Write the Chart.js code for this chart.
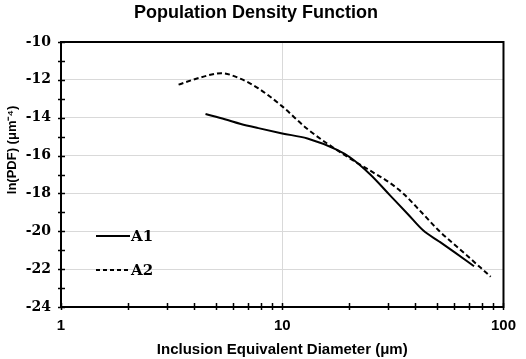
<!DOCTYPE html>
<html>
<head>
<meta charset="utf-8">
<script src="https://cdn.jsdelivr.net/npm/chart.js@4/dist/chart.umd.min.js"></script>
<style>
  html, body { margin: 0; padding: 0; background: #fff; }
  #wrap { width: 526px; height: 359px; }
</style>
</head>
<body>
<div id="wrap"><canvas id="chart"></canvas></div>
<script>
// series (diameter in µm, ln(PDF))
const a1Diam = [4.5, 5.5, 6.5, 7.8, 10, 13, 17.7, 20.3, 25, 30.7, 37, 43.3, 51.4, 60, 73.6];
const a1LnPdf = [-13.8, -14.08, -14.33, -14.55, -14.83, -15.1, -15.7, -16.1, -17.0, -18.1, -19.1, -19.95, -20.55, -21.1, -21.85];
const a2Diam = [3.4, 4.2, 5.3, 6.5, 7.8, 10, 13, 19.6, 25, 30.7, 35.2, 43, 51.4, 65, 87.5];
const a2LnPdf = [-12.25, -11.9, -11.65, -11.95, -12.45, -13.4, -14.6, -16.05, -16.8, -17.45, -18.0, -19.05, -20.0, -21.05, -22.4];
const seriesNames = ["A1", "A2"];
const xMajor = [1, 10, 100];
const xTickValues = [1, 2, 3, 4, 5, 6, 7, 8, 9, 10, 20, 30, 40, 50, 60, 70, 80, 90, 100];

const toPoints = (xs, ys) => xs.map((x, i) => ({ x: x, y: ys[i] }));

const frame = {
  id: "frame",
  afterDraw(chart) {
    const ctx = chart.ctx;
    const a = chart.chartArea;
    const xs = chart.scales.x;
    const ys = chart.scales.y;
    ctx.save();
    ctx.strokeStyle = "#000";
    ctx.lineWidth = 1.5;
    // tick marks crossing the axes
    xs.ticks.forEach(t => {
      const px = Math.round(xs.getPixelForValue(t.value)) + 0.5;
      ctx.beginPath();
      ctx.moveTo(px, a.bottom - 4);
      ctx.lineTo(px, a.bottom + 3);
      ctx.stroke();
    });
    ys.ticks.forEach(t => {
      const py = Math.round(ys.getPixelForValue(t.value)) + 0.5;
      ctx.beginPath();
      ctx.moveTo(a.left - 3, py);
      ctx.lineTo(a.left + 4, py);
      ctx.stroke();
    });
    ctx.lineWidth = 2;
    ctx.strokeRect(a.left, a.top, a.right - a.left, a.bottom - a.top);

    // title
    ctx.fillStyle = "#000";
    ctx.font = "bold 18px 'Liberation Sans', Arial, sans-serif";
    ctx.textAlign = "center";
    ctx.textBaseline = "middle";
    ctx.fillText("Population Density Function", 256, 13);

    // y axis title, sits above the middle like the original
    ctx.save();
    ctx.translate(12, 150);
    ctx.rotate(-Math.PI / 2);
    ctx.font = "bold 13px 'Liberation Sans', Arial, sans-serif";
    ctx.fillText("ln(PDF) (\u03bcm\u207b\u2074)", 0, 0);
    ctx.restore();

    // legend inside the plot
    chart.data.datasets.forEach((ds, i) => {
      const y = a.top + 194 + i * 34;
      ctx.beginPath();
      ctx.setLineDash(ds.borderDash ? [4, 3] : []);
      ctx.lineWidth = 2;
      ctx.moveTo(a.left + 35, y);
      ctx.lineTo(a.left + 69, y);
      ctx.stroke();
      ctx.setLineDash([]);
      ctx.font = "bold 15px 'DejaVu Serif', Georgia, serif";
      ctx.textAlign = "left";
      ctx.fillText(ds.label, a.left + 70, y + 1);
    });
    ctx.restore();
  }
};

new Chart(document.getElementById("chart"), {
  type: "line",
  data: {
    datasets: [
      {
        label: seriesNames[0],
        data: toPoints(a1Diam, a1LnPdf),
        borderColor: "#000",
        borderWidth: 2,
        pointRadius: 0,
        cubicInterpolationMode: "monotone",
        fill: false,
      },
      {
        label: seriesNames[1],
        data: toPoints(a2Diam, a2LnPdf),
        borderColor: "#000",
        borderWidth: 2,
        borderDash: [5, 3],
        pointRadius: 0,
        cubicInterpolationMode: "monotone",
        fill: false,
      },
    ],
  },
  options: {
    responsive: true,
    maintainAspectRatio: false,
    animation: false,
    layout: { padding: { left: 0, right: 18, top: 42, bottom: 0 } },
    plugins: {
      legend: { display: false },
      title: { display: false },
      tooltip: { enabled: false },
    },
    scales: {
      x: {
        type: "logarithmic",
        min: 1,
        max: 100,
        afterBuildTicks: function (scale) {
          scale.ticks = xTickValues.map(v => ({ value: v }));
        },
        afterFit: function (scale) {
          scale.height = 52;
        },
        border: { display: false },
        grid: {
          drawTicks: false,
          color: function (c) {
            return c.tick && c.tick.value === 10 ? "#d9d9d9" : "rgba(0,0,0,0)";
          },
        },
        ticks: {
          autoSkip: false,
          maxRotation: 0,
          padding: 10,
          color: "#000",
          font: { family: "'Liberation Sans', Arial, sans-serif", size: 15, weight: "bold" },
          callback: function (v) {
            return xMajor.includes(v) ? String(v) : "";
          },
        },
        title: {
          display: true,
          text: "Inclusion Equivalent Diameter (\u03bcm)",
          color: "#000",
          padding: { top: 0, bottom: 0 },
          font: { family: "'Liberation Sans', Arial, sans-serif", size: 15, weight: "bold" },
        },
      },
      y: {
        min: -24,
        max: -10,
        afterFit: function (scale) {
          scale.width = 61;
        },
        border: { display: false },
        grid: {
          drawTicks: false,
          color: function (c) {
            return c.tick && c.tick.value % 2 === 0 ? "#d9d9d9" : "rgba(0,0,0,0)";
          },
        },
        ticks: {
          stepSize: 1,
          autoSkip: false,
          padding: 10,
          color: "#000",
          font: { family: "'DejaVu Serif', Georgia, serif", size: 14, weight: "bold" },
          callback: function (v) {
            return v % 2 === 0 ? String(v) : "";
          },
        },
      },
    },
  },
  plugins: [frame],
});
</script>
</body>
</html>
